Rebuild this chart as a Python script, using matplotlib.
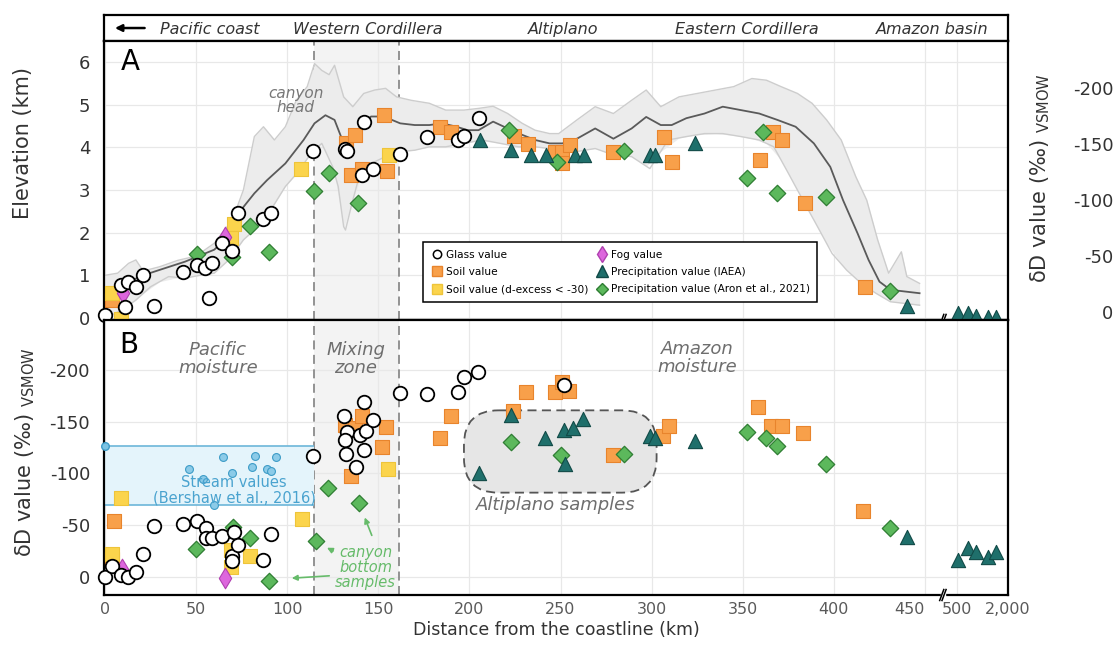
import numpy as np
import matplotlib
matplotlib.use("Agg")
import matplotlib.pyplot as plt
from matplotlib.lines import Line2D
from matplotlib.patches import FancyBboxPatch
import matplotlib.transforms as mtransforms

plt.rcParams['font.family'] = ['DejaVu Sans']
plt.rcParams['axes.unicode_minus'] = False

# ── elevation profile (panel A) ─────────────────────────────────────
mean_km = [0, 9, 21, 31, 44, 60, 70, 76, 82, 89, 99, 109, 115, 121, 126, 131, 135, 140, 146, 153,
           162, 170, 178, 185, 193, 199, 205, 213, 221, 229, 236, 244, 251, 259, 269, 279, 289, 297,
           305, 311, 319, 329, 339, 349, 359, 369, 379, 389, 398, 405, 413, 419, 425, 431, 439, 447]
mean_elev = [0.38, 0.77, 1.0, 1.14, 1.32, 1.6, 2.0, 2.6, 2.92, 3.23, 3.62, 4.17, 4.56, 4.75, 4.64,
             4.09, 4.01, 4.48, 4.72, 4.72, 4.56, 4.52, 4.52, 4.56, 4.48, 4.4, 4.4, 4.6, 4.44, 4.29,
             4.17, 4.09, 4.09, 4.2, 4.44, 4.2, 4.44, 4.71, 4.52, 4.52, 4.68, 4.79, 4.95, 4.87, 4.79,
             4.64, 4.48, 4.09, 3.54, 2.76, 1.98, 1.36, 0.85, 0.66, 0.62, 0.58]
max_km = [0, 7, 13, 17, 21, 30, 40, 50, 60, 70, 76, 82, 87, 93, 99, 105, 111, 115, 119, 123, 126,
          131, 136, 142, 148, 154, 160, 168, 178, 187, 197, 205, 213, 221, 229, 236, 244, 249, 259,
          269, 279, 289, 297, 305, 315, 325, 335, 345, 355, 363, 371, 380, 388, 396, 404, 412, 418,
          424, 430, 437, 440, 447]
max_elev = [1.0, 1.05, 1.28, 1.36, 1.1, 1.2, 1.35, 1.45, 1.75, 2.3, 3.0, 4.25, 4.48, 4.17, 4.48,
            5.1, 5.42, 5.96, 5.8, 5.7, 5.92, 5.18, 4.95, 5.26, 5.34, 5.38, 5.18, 5.1, 5.03, 4.87,
            4.87, 4.91, 4.96, 4.79, 4.56, 4.4, 4.32, 4.32, 4.64, 4.95, 4.79, 5.1, 5.34, 4.95, 5.18,
            5.26, 5.34, 5.42, 5.61, 5.57, 5.42, 5.26, 5.03, 4.64, 4.17, 3.31, 2.76, 1.83, 1.05,
            1.55, 0.97, 0.81]
min_km = [0, 10, 17, 25, 35, 44, 52, 60, 68, 76, 84, 91, 99, 107, 113, 119, 125, 128, 131, 132,
          136, 140, 146, 154, 162, 170, 178, 187, 197, 207, 217, 227, 236, 244, 249, 259, 269, 279,
          289, 299, 309, 319, 329, 339, 349, 359, 367, 375, 383, 391, 399, 407, 415, 423, 431, 439,
          447]
min_elev = [0.0, 0.2, 0.42, 0.73, 0.97, 0.93, 1.0, 1.05, 1.36, 1.83, 2.14, 2.53, 3.08, 3.47, 3.86,
            4.09, 3.54, 3.08, 2.14, 2.06, 2.76, 3.39, 3.62, 3.78, 3.9, 3.93, 4.01, 4.01, 4.09, 4.17,
            4.09, 4.01, 4.01, 3.97, 3.93, 3.9, 3.97, 3.82, 3.78, 3.5, 4.17, 4.25, 4.32, 4.32, 4.25,
            4.17, 4.01, 3.39, 2.76, 2.14, 1.51, 1.12, 0.81, 0.58, 0.38, 0.34, 0.30]

# ── panel A samples (distance km, elevation km) ─────────────────────
glass_a_km = [0, 9, 12.5, 17, 11, 21, 27, 43, 50.5, 55, 59, 57, 64, 70, 73, 87, 91, 114, 132, 133,
              142, 141, 147, 162, 177, 194, 197, 205]
glass_a_elev = [0.07, 0.77, 0.85, 0.72, 0.25, 1.0, 0.28, 1.07, 1.23, 1.16, 1.28, 0.46, 1.75, 1.58,
                2.45, 2.33, 2.47, 3.91, 3.97, 3.92, 4.58, 3.36, 3.48, 3.83, 4.25, 4.17, 4.27, 4.69]
soil_a_km = [4, 132.5, 137, 153, 135, 141, 155, 184, 190, 224.5, 232, 247, 251, 255, 251, 279, 307,
             311, 359.5, 366.5, 371.6, 384, 417]
soil_a_elev = [0.42, 4.1, 4.29, 4.75, 3.35, 3.5, 3.45, 4.48, 4.35, 4.27, 4.07, 3.9, 3.88, 4.05, 3.62,
               3.9, 4.25, 3.66, 3.7, 4.36, 4.17, 2.69, 0.72]
soilx_a_km = [4, 8.6, 70.7, 69.4, 107.6, 156]
soilx_a_elev = [0.59, -0.03, 2.2, 1.87, 3.5, 3.82]
fog_a_km = [10, 66]
fog_a_elev = [0.58, 1.89]
iaea_a_km = [206, 222.6, 234, 242, 257.8, 262.8, 299, 302, 324, 440, 521, 823, 1060, 1400, 1650]
iaea_a_elev = [4.17, 3.93, 3.82, 3.82, 3.82, 3.82, 3.82, 3.82, 4.09, 0.28, 0.12, 0.12, 0.05, 0.02, 0.02]
aron_a_km = [50.8, 69.8, 79.6, 90.3, 114.8, 122.7, 139, 221.6, 248, 284.6, 361, 352.4, 368.6, 395.7, 431]
aron_a_elev = [1.5, 1.42, 2.15, 1.55, 2.98, 3.4, 2.69, 4.4, 3.65, 3.92, 4.36, 3.27, 2.92, 2.84, 0.63]

# ── panel B samples (distance km, dD permil) ────────────────────────
glass_b_km = [0, 4, 9, 12.5, 17, 21, 27, 43, 50.5, 55.6, 55.6, 59, 64, 70.7, 70, 70, 73, 86.6, 91,
              114, 131, 133, 132, 132.5, 138, 140, 142, 143, 147, 142, 162, 176.6, 194, 197, 204.6, 251.8]
glass_b_dd = [0, -10.6, -2, 0, -4.5, -22, -49, -51, -54, -47, -38, -38, -40, -43, -20, -15, -31, -16,
              -41.5, -117, -155.5, -140, -132, -118.5, -106.6, -137, -169, -141, -151.7, -123, -177.5,
              -176.8, -179, -193.6, -197.7, -185.5]
soil_b_km = [5, 4, 132, 137.4, 141, 154, 152, 135, 184, 190, 224, 231, 246.7, 250.8, 254.8, 279, 306,
             309.6, 358.5, 365.5, 371.5, 383, 416]
soil_b_dd = [-54.4, -17, -147, -143.6, -155.5, -145, -126, -98, -134.6, -155.5, -160.7, -179, -179,
             -188.7, -179.7, -117.9, -136, -146, -164, -146, -146, -138.8, -63.8]
soilx_b_km = [8.6, 4, 69.4, 69, 79.6, 108, 155.6]
soilx_b_dd = [-76, -22, -10, -26, -20, -56, -104]
fog_b_km = [9.4, 66]
fog_b_dd = [-7.4, 1]
iaea_b_km = [205, 222.6, 241.7, 251.8, 256.8, 262.4, 252.3, 299, 301.6, 323.7, 440,
             521, 823, 1060, 1400, 1650]
iaea_b_dd = [-100, -156.5, -134, -142, -143.6, -152.3, -109, -136, -134, -131.4, -39,
             -16.4, -27.7, -24.5, -19.6, -24.5]
aron_b_km = [50, 70.4, 79.6, 90.3, 115.8, 122.3, 139.3, 223, 250, 284.6, 352.4, 362.5, 368.6, 395.7, 431]
aron_b_dd = [-27, -48.6, -37.4, 3.5, -35, -86.3, -71.8, -130, -118, -118.5, -140, -134, -126.6, -109, -47]
stream_km = [46, 53.7, 64.9, 70, 80.5, 82.5, 88.9, 91.3, 93.7, 59.6]
stream_dd = [-104, -95, -116, -100.8, -106, -117, -104, -102.4, -116, -69.6]
stream_range = [-126.6, -69.5]

regions = ["Pacific coast", "Western Cordillera", "Altiplano", "Eastern Cordillera", "Amazon basin"]
xticks = [0, 50, 100, 150, 200, 250, 300, 350, 400, 450, 500, 2000]
xticklabels = ["0", "50", "100", "150", "200", "250", "300", "350", "400", "450", "500", "2,000"]

mix_lo, mix_hi = 114.5, 161.6


# broken x axis: linear to 450, squeezed 450-500, compressed 500-2000
def fwd(x):
    x = np.asarray(x, float)
    return np.where(x <= 450, x, np.where(x <= 500, 450 + (x - 450) * 0.352,
                                          467.6 + (x - 500) * 0.0186))


def inv(t):
    t = np.asarray(t, float)
    return np.where(t <= 450, t, np.where(t <= 467.6, 450 + (t - 450) / 0.352,
                                          500 + (t - 467.6) / 0.0186))


C_ORANGE, C_ORANGE_E = "#f8a04a", "#e8842c"
C_YELLOW, C_YELLOW_E = "#fbd44c", "#eec43a"
C_TEAL, C_TEAL_E = "#1f6f6b", "#114a47"
C_GREEN, C_GREEN_E = "#5cb85c", "#2e7d32"
C_FOG, C_FOG_E = "#dd66dd", "#b040b0"
GRAYTXT = "#6e6e6e"


def draw_samples(ax, g, s, sx, fog, iaea, aron):
    kw = dict(clip_on=False, zorder=4)
    ax.scatter(*s, marker="s", s=95, c=C_ORANGE, edgecolors=C_ORANGE_E, linewidths=0.8, **kw)
    ax.scatter(*sx, marker="s", s=95, c=C_YELLOW, edgecolors=C_YELLOW_E, linewidths=0.8, **kw)
    ax.scatter(*fog, marker="d", s=110, c=C_FOG, edgecolors=C_FOG_E, linewidths=0.8, **kw)
    ax.scatter(*aron, marker="D", s=70, c=C_GREEN, edgecolors=C_GREEN_E, linewidths=0.9, **kw)
    ax.scatter(*iaea, marker="^", s=105, c=C_TEAL, edgecolors=C_TEAL_E, linewidths=0.8, **kw)
    ax.scatter(*g, marker="o", s=95, c="white", edgecolors="black", linewidths=1.3, **kw)


fig = plt.figure(figsize=(11.17, 6.45), dpi=100)
L, W = 0.0931, 0.8093
ax_h = fig.add_axes([L, 0.9364, W, 0.0403])
ax_a = fig.add_axes([L, 0.5039, W, 0.4326])
ax_b = fig.add_axes([L, 0.0775, W, 0.4264], sharex=ax_a)

# header
ax_h.set_xlim(0, 1); ax_h.set_ylim(0, 1)
ax_h.set_xticks([]); ax_h.set_yticks([])
for sp in ax_h.spines.values():
    sp.set_linewidth(1.6)
ax_h.annotate("", xy=(0.009, 0.5), xytext=(0.048, 0.5),
              arrowprops=dict(arrowstyle="-|>", color="black", lw=1.8, mutation_scale=10))
for name, xc in zip(regions, [0.117, 0.292, 0.508, 0.711, 0.916]):
    ax_h.text(xc, 0.45, name, ha="center", va="center", style="italic", fontsize=11.5, color="#333333")

for ax in (ax_a, ax_b):
    ax.set_xscale("function", functions=(fwd, inv))
    ax.grid(color="#e8e8e8", lw=0.9)
    ax.set_axisbelow(True)
    ax.axvspan(mix_lo, mix_hi, color="#f3f3f3", zorder=0.5, lw=0)
    for xv in (mix_lo, mix_hi):
        ax.axvline(xv, color="#8a8a8a", lw=1.3, ls=(0, (5, 3)), zorder=1)
    for sp in ax.spines.values():
        sp.set_linewidth(1.6)
    ax.tick_params(length=0, labelsize=13, labelcolor="#333333", pad=10)

ax_a.set_xlim(-0.5, 2000)

# panel A profile
ax_a.fill_between(max_km, max_elev, np.interp(max_km, min_km, min_elev), color="#ececec", lw=0, zorder=1)
ax_a.plot(max_km, max_elev, color="#cdcdcd", lw=1.0, zorder=1.5)
ax_a.plot(min_km, min_elev, color="#cdcdcd", lw=1.0, zorder=1.5)
ax_a.plot(mean_km, mean_elev, color="#5a5a5a", lw=1.3, zorder=2)

draw_samples(ax_a, (glass_a_km, glass_a_elev), (soil_a_km, soil_a_elev), (soilx_a_km, soilx_a_elev),
             (fog_a_km, fog_a_elev), (iaea_a_km, iaea_a_elev), (aron_a_km, aron_a_elev))

ax_a.set_ylim(-0.047, 6.49)
ax_a.set_yticks([0, 1, 2, 3, 4, 5, 6])
ax_a.tick_params(axis="x", labelbottom=False)
ax_a.text(0.029, 0.925, "A", transform=ax_a.transAxes, fontsize=20, ha="center", va="center")
ax_a.text(104.8, 5.1, "canyon\nhead", ha="center", va="center", style="italic",
          fontsize=11, color="#777777", linespacing=0.9)

ax_r = ax_a.twinx()
ax_r.set_ylim(7.1, -241.9)
ax_r.set_yticks([0, -50, -100, -150, -200])
ax_r.tick_params(length=0, labelsize=13, labelcolor="#333333", pad=76)
for lab in ax_r.get_yticklabels():
    lab.set_ha("right")
for sp in ax_r.spines.values():
    sp.set_visible(False)

handles = [
    Line2D([], [], ls="", marker="o", mfc="white", mec="black", ms=6, mew=1.1),
    Line2D([], [], ls="", marker="s", mfc=C_ORANGE, mec=C_ORANGE_E, ms=7),
    Line2D([], [], ls="", marker="s", mfc=C_YELLOW, mec=C_YELLOW_E, ms=7),
    Line2D([], [], ls="", marker="d", mfc=C_FOG, mec=C_FOG_E, ms=8),
    Line2D([], [], ls="", marker="^", mfc=C_TEAL, mec=C_TEAL_E, ms=8),
    Line2D([], [], ls="", marker="D", mfc=C_GREEN, mec=C_GREEN_E, ms=6),
]
labels = ["Glass value", "Soil value", "Soil value (d-excess < -30)", "Fog value",
          "Precipitation value (IAEA)", "Precipitation value (Aron et al., 2021)"]
leg = ax_r.legend(handles, labels, ncol=2, loc="upper left", fontsize=7.6,
                  bbox_to_anchor=(418 / 1117, 1 - 237 / 645), bbox_transform=fig.transFigure,
                  fancybox=False, edgecolor="black", framealpha=1, borderpad=0.7,
                  handletextpad=0.3, columnspacing=0.6, labelspacing=0.7, handlelength=1.2)
leg.get_frame().set_linewidth(1.1)

# panel B
ax_b.fill_between([0, mix_lo], stream_range[0], stream_range[1], color="#e4f4fb", lw=0, zorder=1)
ax_b.hlines(stream_range, 0, mix_lo, color="#6cb6d9", lw=1.2, zorder=1.5)
ax_b.scatter([0], [stream_range[0]], s=30, c="#7cc3e3", edgecolors="#3d9cc7", zorder=4, clip_on=False)
ax_b.scatter(stream_km, stream_dd, s=32, c="#8ccbe8", edgecolors="#3d9cc7", linewidths=0.8, zorder=3)
ax_b.text(71, -84, "Stream values\n(Bershaw et al., 2016)", ha="center", va="center",
          fontsize=10.5, color="#4aa3cf", linespacing=1.0, zorder=3.5)

alti = FancyBboxPatch((197, -161), 105.7, 79.5, boxstyle="round,pad=0,rounding_size=19",
                      mutation_aspect=1.76, facecolor="#e6e6e6", edgecolor="#555555",
                      ls=(0, (5, 3)), lw=1.3, zorder=1.5)
ax_b.add_patch(alti)
ax_b.text(247.6, -69.6, "Altiplano samples", ha="center", va="center", style="italic",
          fontsize=13, color=GRAYTXT)

draw_samples(ax_b, (glass_b_km, glass_b_dd), (soil_b_km, soil_b_dd), (soilx_b_km, soilx_b_dd),
             (fog_b_km, fog_b_dd), (iaea_b_km, iaea_b_dd), (aron_b_km, aron_b_dd))

ax_b.set_ylim(17.4, -248.3)
ax_b.set_yticks([0, -50, -100, -150, -200])
ax_b.set_xticks(xticks)
ax_b.set_xticklabels(xticklabels)
ax_b.tick_params(axis="x", labelsize=11.5, labelcolor="#5a5a5a", pad=5)
ax_b.get_xticklabels()[9].set_ha("right")
ax_b.set_xlabel("Distance from the coastline (km)", fontsize=12.5, color="#333333", labelpad=3)

ax_b.text(0.027, 0.909, "B", transform=ax_b.transAxes, fontsize=20, ha="center", va="center")
ax_b.text(62, -211, "Pacific\nmoisture", ha="center", va="center", style="italic", fontsize=13,
          color=GRAYTXT, linespacing=1.0)
ax_b.text(137.5, -211, "Mixing\nzone", ha="center", va="center", style="italic", fontsize=13,
          color=GRAYTXT, linespacing=1.0)
ax_b.text(325, -212, "Amazon\nmoisture", ha="center", va="center", style="italic", fontsize=13,
          color=GRAYTXT, linespacing=1.0)
ax_b.text(143, -9.6, "canyon\nbottom\nsamples", ha="center", va="center", style="italic",
          fontsize=10.5, color="#66bb6a", linespacing=1.0)
for start, end in [((147, -37.7), (142, -60)), ((126.6, -24), (120.5, -29.5)), ((124.6, -1.3), (101, 1.3))]:
    ax_b.annotate("", xy=end, xytext=start,
                  arrowprops=dict(arrowstyle="-|>", color="#66bb6a", lw=1.2, mutation_scale=8))

# axis-break marks
brk = 477.8
for ax in (ax_a, ax_b):
    tr = mtransforms.blended_transform_factory(ax.transData, ax.transAxes)
    ax.add_patch(plt.Rectangle((brk - 3.5, -0.012), 7, 0.024, transform=tr, color="white",
                               clip_on=False, zorder=5))
    for dx in (-1.8, 1.8):
        ax.plot([brk + dx - 3.2, brk + dx + 3.2], [-0.02, 0.02], transform=tr, color="black",
                lw=1.1, clip_on=False, zorder=6)

# axis titles
fig.text(23 / 1117, 1 - 143 / 645, "Elevation (km)", rotation=90, ha="center", va="center",
         fontsize=15, color="#333333")
dd_label = "δD value (‰) $_{\\mathregular{VSMOW}}$"
fig.text(25 / 1117, 1 - 452 / 645, dd_label, rotation=90, ha="center", va="center",
         fontsize=15, color="#333333")
fig.text(1040 / 1117, 1 - 178 / 645, dd_label, rotation=90, ha="center", va="center",
         fontsize=15, color="#333333")

fig.savefig("out.png", dpi=100)
